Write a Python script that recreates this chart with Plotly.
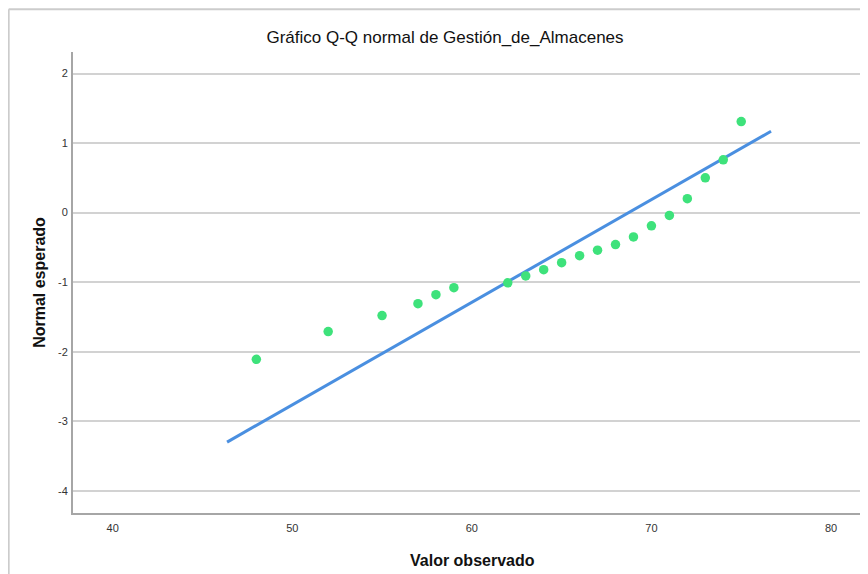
import plotly.graph_objects as go

# Observed values and expected normal quantiles
valor_observado = [48, 52, 55, 57, 58, 59, 62, 63, 64, 65, 66, 67, 68, 69, 70, 71, 72, 73, 74, 75]
normal_esperado = [-2.11, -1.71, -1.48, -1.31, -1.18, -1.08, -1.01, -0.91, -0.82, -0.72,
                   -0.62, -0.54, -0.46, -0.35, -0.19, -0.04, 0.20, 0.50, 0.76, 1.31]

# Reference line endpoints
linea_x = [46.37, 76.66]
linea_y = [-3.30, 1.17]

x_ticks = [40, 50, 60, 70, 80]
y_ticks = [2, 1, 0, -1, -2, -3, -4]

# page body has an 8px margin, so the figure is drawn offset by (8, 8)
OFF = 8
W, H = 868 - OFF, 574 - OFF
L, R, T = 73.3 - OFF, 0, 51.7 - OFF
B = H - (513.3 - OFF)
pw = W - L - R
ph = H - T - B

fig = go.Figure()
fig.add_trace(go.Scatter(x=linea_x, y=linea_y, mode="lines",
                         line=dict(color="#4a8fe0", width=3), hoverinfo="skip"))
fig.add_trace(go.Scatter(x=valor_observado, y=normal_esperado, mode="markers",
                         marker=dict(color="#3ee27b", size=9.5, line=dict(width=0))))

fig.update_layout(
    width=W, height=H,
    margin=dict(l=L, r=R, t=T, b=B, pad=0),
    paper_bgcolor="white", plot_bgcolor="white",
    showlegend=False,
    font=dict(family="Liberation Sans, Arial, sans-serif", color="#222222"),
    title=dict(text="Gráfico Q-Q normal de Gestión_de_Almacenes",
               x=(445 - OFF) / W, xanchor="center", y=1 - (37 - OFF) / H, yanchor="middle",
               font=dict(size=17, color="#111111")),
    xaxis=dict(range=[37.79, 82.06], tickvals=x_ticks, ticktext=[str(v) for v in x_ticks],
               showgrid=False, zeroline=False,
               showline=True, linecolor="#a6a6a6", linewidth=2,
               ticks="", ticklabelstandoff=4,
               tickfont=dict(size=11, color="#333333")),
    yaxis=dict(range=[-4.32, 2.31], tickvals=y_ticks, ticktext=[str(v) for v in y_ticks],
               showgrid=True, gridcolor="#d2d2d2",
               gridwidth=1.5, zeroline=False,
               showline=True, linecolor="#a6a6a6", linewidth=2,
               ticks="", ticklabelstandoff=1,
               tickfont=dict(size=11, color="#333333"),
               title=dict(text="<b>Normal esperado</b>", font=dict(size=16, color="#111111"), standoff=8)),
)

# x-axis title as annotation (placed below tick labels)
fig.add_annotation(text="<b>Valor observado</b>", xref="paper", yref="paper",
                   x=(472.5 - 73.3) / pw, y=-(561 - 513.3) / ph, xanchor="center", yanchor="middle",
                   showarrow=False, font=dict(size=16, color="#111111"))

# Outer frame (top and left edges)
fx = (1 - L) / pw
fy = (H - B - 1) / ph
fig.add_shape(type="line", xref="paper", yref="paper", x0=fx, x1=1.02, y0=fy, y1=fy,
              line=dict(color="#cccccc", width=2))
fig.add_shape(type="line", xref="paper", yref="paper", x0=fx, x1=fx, y0=fy, y1=-0.2,
              line=dict(color="#cccccc", width=2))

fig.write_html("out.html")
